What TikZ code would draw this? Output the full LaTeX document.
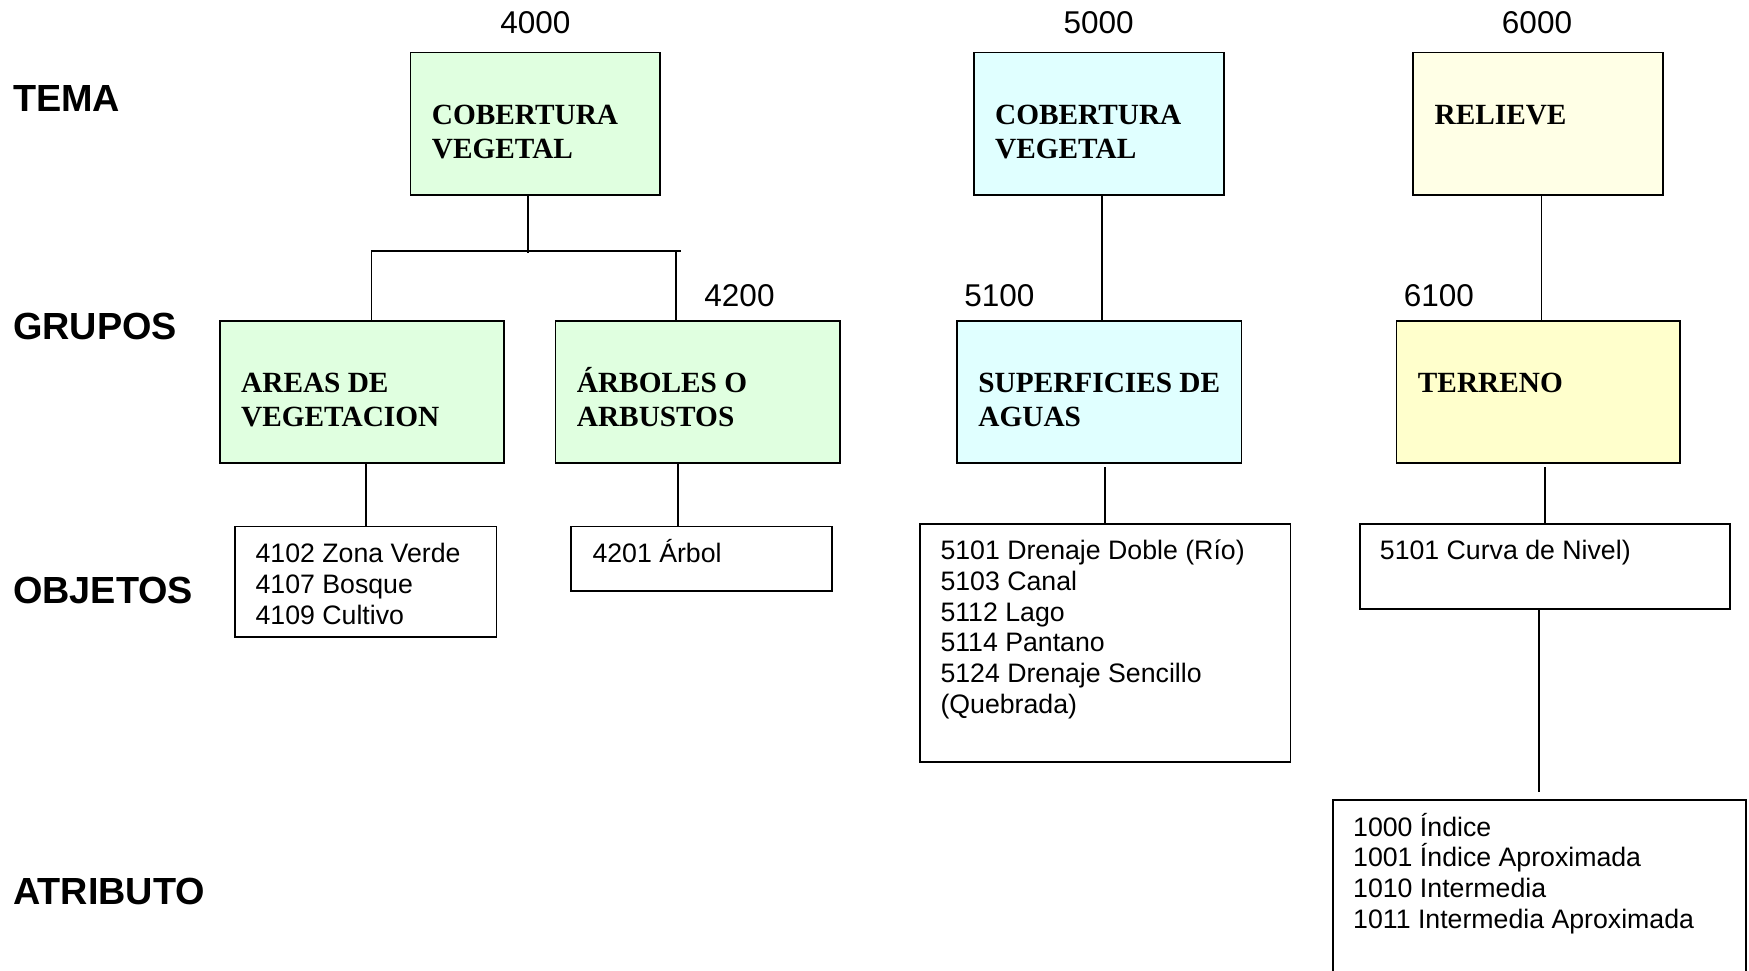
\documentclass[tikz,border=0pt]{standalone}
\usepackage{fontspec}
\setmainfont{Liberation Sans}
\newfontfamily\tnr{Liberation Serif}
\definecolor{vgreen}{RGB}{224,255,224}
\definecolor{vcyan}{RGB}{224,255,255}
\definecolor{vpale}{RGB}{255,255,230}
\definecolor{vyellow}{RGB}{255,255,204}
\begin{document}
\begin{tikzpicture}[x=1pt,y=-1pt,
  box/.style={draw=black, line width=1.8pt, inner sep=0pt, outer sep=0pt, anchor=north west},
  conn/.style={draw=black, line width=1.8pt},
  lev/.style={inner sep=0pt, anchor=base west, font=\bfseries\fontsize{37.8}{44}\selectfont},
  num/.style={inner sep=0pt, anchor=base, font=\fontsize{31.5}{38}\selectfont},
  head/.style={inner sep=0pt, anchor=base west, font=\tnr\bfseries\fontsize{29.3}{34}\selectfont},
  item/.style={inner sep=0pt, anchor=base west, font=\fontsize{26.7}{31}\selectfont}]
\clip (0,0) rectangle (1749,970);
\useasboundingbox (0,0) rectangle (1749,970);

% level labels
\node[lev] (lt) at (13,111.4) {TEMA};
\node[lev] (lg) at (13,339) {GRUPOS};
\node[lev] (lo) at (13,603.3) {OBJETOS};
\node[lev] (la) at (13,904.5) {ATRIBUTO};

% code numbers
\node[num] (n4000) at (535.4,33.6) {4000};
\node[num] (n5000) at (1098.7,33.6) {5000};
\node[num] (n6000) at (1537,33.6) {6000};
\node[num] (n4200) at (739.5,306.9) {4200};
\node[num] (n5100) at (999.4,306.9) {5100};
\node[num] (n6100) at (1438.9,306.9) {6100};

% tema boxes
\node[box, fill=vgreen, minimum width=249.8pt, minimum height=142.8pt] (t4) at (410.5,52.4) {};
\node[box, fill=vcyan, minimum width=249.8pt, minimum height=142.8pt] (t5) at (973.8,52.4) {};
\node[box, fill=vpale, minimum width=249.8pt, minimum height=142.8pt] (t6) at (1413.2,52.4) {};
\node[head] (t4a) at (431.7,124.6) {COBERTURA};
\node[head] (t4b) at (431.7,158.1) {VEGETAL};
\node[head] (t5a) at (995,124.6) {COBERTURA};
\node[head] (t5b) at (995,158.1) {VEGETAL};
\node[head] (t6a) at (1434.4,124.6) {RELIEVE};

% grupos boxes
\node[box, fill=vgreen, minimum width=284.5pt, minimum height=141.7pt] (gA) at (219.7,321.2) {};
\node[box, fill=vgreen, minimum width=284.4pt, minimum height=141.7pt] (gB) at (555.5,321.2) {};
\node[box, fill=vcyan, minimum width=284.4pt, minimum height=141.7pt] (gC) at (957,321.2) {};
\node[box, fill=vyellow, minimum width=283.3pt, minimum height=141.7pt] (gD) at (1396.5,321.2) {};
\node[head] (gAa) at (241,392.2) {AREAS DE};
\node[head] (gAb) at (241,426.4) {VEGETACION};
\node[head] (gBa) at (576.7,392.2) {ÁRBOLES O};
\node[head] (gBb) at (576.7,426.4) {ARBUSTOS};
\node[head] (gCa) at (978.2,392.2) {SUPERFICIES DE};
\node[head] (gCb) at (978.2,426.4) {AGUAS};
\node[head] (gDa) at (1417.7,392.2) {TERRENO};

% objetos boxes
\node[box, minimum width=261.1pt, minimum height=110.4pt] (o1) at (235.3,526.5) {};
\node[box, minimum width=261pt, minimum height=64.7pt] (o2) at (571.1,526.5) {};
\node[box, minimum width=370.3pt, minimum height=237.6pt] (o3) at (920.2,524.2) {};
\node[box, minimum width=370.3pt, minimum height=84.8pt] (o4) at (1359.7,524.2) {};
\node[item] (o1a) at (255.4,562.7) {4102 Zona Verde};
\node[item] (o1b) at (255.4,593.4) {4107 Bosque};
\node[item] (o1c) at (255.4,624.1) {4109 Cultivo};
\node[item] (o2a) at (592.3,562.7) {4201 Árbol};
\node[item] (o3a) at (940.3,559.4) {5101 Drenaje Doble (Río)};
\node[item] (o3b) at (940.3,590.2) {5103 Canal};
\node[item] (o3c) at (940.3,621.0) {5112 Lago};
\node[item] (o3d) at (940.3,651.8) {5114 Pantano};
\node[item] (o3e) at (940.3,682.6) {5124 Drenaje Sencillo};
\node[item] (o3f) at (940.3,713.4) {(Quebrada)};
\node[item] (o4a) at (1379.7,559.4) {5101 Curva de Nivel)};

% atributo box
\node[box, minimum width=412.7pt, minimum height=200pt] (at) at (1332.9,799.7) {};
\node[item] (ata) at (1353,836) {1000 Índice};
\node[item] (atb) at (1353,866.9) {1001 Índice Aproximada};
\node[item] (atc) at (1353,897.8) {1010 Intermedia};
\node[item] (atd) at (1353,928.6) {1011 Intermedia Aproximada};

% connectors
\coordinate (jm) at (527.6,251);
\coordinate (jl) at (371.4,251);
\coordinate (jr) at (676,251);
\coordinate (jre) at (681,251);
\coordinate (kB) at (678,0);
\coordinate (kC) at (1102,0);
\coordinate (kD) at (1541.5,0);
\draw[conn] (t4.south -| jm) -- ([yshift=-2pt]jm);
\draw[conn] (jl |- gA.north) -- (jl) -- (jre);
\draw[conn] (jr) -- (jr |- gB.north);
\draw[conn] (kC |- t5.south) -- (kC |- gC.north);
\draw[conn] (kD |- t6.south) -- (kD |- gD.north);
\draw[conn] (o1.north |- gA.south) -- (o1.north);
\draw[conn] (kB |- gB.south) -- (kB |- o2.north);
\draw[conn] ([yshift=-4.5pt]gC.south -| o3.north) -- (o3.north);
\draw[conn] ([yshift=-4.5pt]gD.south -| o4.north) -- (o4.north);
\draw[conn] (o4.south -| at.north) -- ([yshift=7.7pt]at.north);
\end{tikzpicture}
\end{document}
